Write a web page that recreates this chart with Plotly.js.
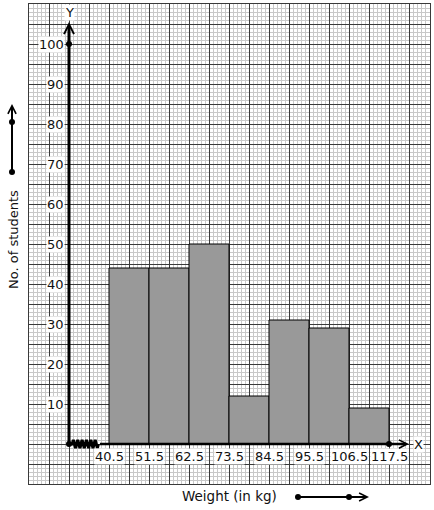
<!DOCTYPE html>
<html>
<head>
<meta charset="utf-8">
<script src="https://cdn.plot.ly/plotly-3.0.1.min.js"></script>
<style>html,body{margin:0;padding:0;background:#fff;}#chart{width:434px;height:510px;}</style>
</head>
<body>
<div id="chart"></div>
<script>
// ---- data ----
const classEdges = [40.5, 51.5, 62.5, 73.5, 84.5, 95.5, 106.5, 117.5];
const students = [44, 44, 50, 12, 31, 29, 9];
const yTickValues = [10, 20, 30, 40, 50, 60, 70, 80, 90, 100];
const xTickLabels = ['40.5', '51.5', '62.5', '73.5', '84.5', '95.5', '106.5', '117.5'];
const xTitle = 'Weight (in kg)';
const yTitle = 'No. of students';

// ---- layout constants ----
const ORIGIN_X = 29.5;           // kink origin on weight axis
const FONT = 'DejaVu Sans, sans-serif';
const L = 29, R = 4, T = 4, B = 26, W = 434, H = 510;
const PW = W - L - R, PH = H - T - B;
const px2x = p => 18.5 + (p - L) * 11 / 40;
const py2y = p => (444 - p) / 4;
const pxPaper = p => (p - L) / PW;
const pyPaper = p => (H - B - p) / PH;

const mids = students.map((_, i) => (classEdges[i] + classEdges[i + 1]) / 2);
const widths = students.map((_, i) => classEdges[i + 1] - classEdges[i]);

// kink (zig-zag) near origin
const kinkX = [ORIGIN_X, 30.4], kinkY = [0, 0];
for (let i = 0; i < 12; i++) { kinkX.push(30.4 + (i + 0.5) * 0.6); kinkY.push(i % 2 ? -1 : 1); }
kinkX.push(37.6); kinkY.push(0);

const traces = [
  {
    type: 'bar', x: mids, y: students, width: widths,
    marker: {color: '#999999', line: {color: '#000', width: 1}},
    hoverinfo: 'skip', showlegend: false
  },
  {
    type: 'scatter', mode: 'lines', x: kinkX, y: kinkY,
    line: {color: '#000', width: 3}, hoverinfo: 'skip', showlegend: false, cliponaxis: false
  },
  {
    type: 'scatter', mode: 'markers',
    x: [ORIGIN_X, ORIGIN_X, classEdges[classEdges.length - 1]], y: [0, yTickValues[yTickValues.length - 1], 0],
    marker: {color: '#000', size: 6}, hoverinfo: 'skip', showlegend: false, cliponaxis: false
  }
];

const annotations = [];
yTickValues.forEach(v => annotations.push({
  x: ORIGIN_X, y: v, xref: 'x', yref: 'y', text: String(v), showarrow: false,
  xanchor: 'right', yanchor: 'middle', xshift: -4, bgcolor: '#fff', borderpad: 0,
  font: {family: FONT, size: 13, color: '#111'}
}));
classEdges.forEach((v, i) => annotations.push({
  x: v, y: 0, xref: 'x', yref: 'y', text: xTickLabels[i], showarrow: false,
  xanchor: 'center', yanchor: 'top', yshift: -4, bgcolor: '#fff', borderpad: 0,
  font: {family: FONT, size: 13, color: '#111'}
}));
// axis letters
annotations.push({x: ORIGIN_X, y: py2y(12), xref: 'x', yref: 'y', text: 'Y', showarrow: false,
  bgcolor: '#fff', borderpad: 0, font: {family: FONT, size: 13, color: '#111'}});
annotations.push({x: px2x(418), y: 0, xref: 'x', yref: 'y', text: 'X', showarrow: false,
  bgcolor: '#fff', borderpad: 0, font: {family: FONT, size: 13, color: '#111'}});
// axis arrows
annotations.push({x: ORIGIN_X, y: py2y(22), ax: ORIGIN_X, ay: 0, xref: 'x', yref: 'y', axref: 'x', ayref: 'y',
  text: '', showarrow: true, arrowhead: 5, arrowsize: 0.65, arrowwidth: 3, arrowcolor: '#000', standoff: 0});
annotations.push({x: px2x(409), y: 0, ax: 37.6, ay: 0, xref: 'x', yref: 'y', axref: 'x', ayref: 'y',
  text: '', showarrow: true, arrowhead: 5, arrowsize: 0.65, arrowwidth: 2.5, arrowcolor: '#000', standoff: 0});
// titles
annotations.push({x: pxPaper(13), y: pyPaper(240), xref: 'paper', yref: 'paper', text: yTitle, showarrow: false,
  textangle: -90, xanchor: 'center', yanchor: 'middle', font: {family: FONT, size: 13, color: '#111'}});
annotations.push({x: pxPaper(229), y: pyPaper(496), xref: 'paper', yref: 'paper', text: xTitle, showarrow: false,
  xanchor: 'center', yanchor: 'middle', font: {family: FONT, size: 13.5, color: '#111'}});
// title arrows
annotations.push({x: pxPaper(12), y: pyPaper(104), xref: 'paper', yref: 'paper', ax: 0, ay: 68,
  text: '', showarrow: true, arrowhead: 5, arrowsize: 0.8, arrowwidth: 2, arrowcolor: '#000', standoff: 0});
annotations.push({x: pxPaper(369), y: pyPaper(497), xref: 'paper', yref: 'paper', ax: -71, ay: 0,
  text: '', showarrow: true, arrowhead: 5, arrowsize: 0.8, arrowwidth: 2, arrowcolor: '#000', standoff: 0});

const dot = (px, py) => ({type: 'circle', xref: 'paper', yref: 'paper', xsizemode: 'pixel', ysizemode: 'pixel',
  xanchor: pxPaper(px), yanchor: pyPaper(py), x0: -3, x1: 3, y0: -3, y1: 3,
  fillcolor: '#000', line: {width: 0}});
const shapes = [dot(12, 172), dot(12, 122), dot(298, 497), dot(349, 497)];

const layout = {
  width: W, height: H,
  margin: {l: L, r: R, t: T, b: B, pad: 0},
  paper_bgcolor: '#fff', plot_bgcolor: '#fff',
  showlegend: false, bargap: 0,
  xaxis: {
    range: [px2x(L), px2x(W - R)], tick0: 18.5, dtick: 5.5,
    showgrid: true, gridcolor: '#3a3a3a', gridwidth: 1,
    minor: {tick0: 18.5, dtick: 1.1, showgrid: true, gridcolor: '#c8c8c8', gridwidth: 1},
    showticklabels: false, ticks: '', zeroline: false,
    showline: true, mirror: true, linecolor: '#3a3a3a', linewidth: 1, fixedrange: true
  },
  yaxis: {
    range: [py2y(H - B), py2y(T)], tick0: 0, dtick: 5,
    showgrid: true, gridcolor: '#3a3a3a', gridwidth: 1,
    minor: {tick0: 0, dtick: 1, showgrid: true, gridcolor: '#c8c8c8', gridwidth: 1},
    showticklabels: false, ticks: '', zeroline: false,
    showline: true, mirror: true, linecolor: '#3a3a3a', linewidth: 1, fixedrange: true
  },
  annotations: annotations,
  shapes: shapes
};

Plotly.newPlot('chart', traces, layout, {staticPlot: true, displayModeBar: false});
</script>
</body>
</html>
